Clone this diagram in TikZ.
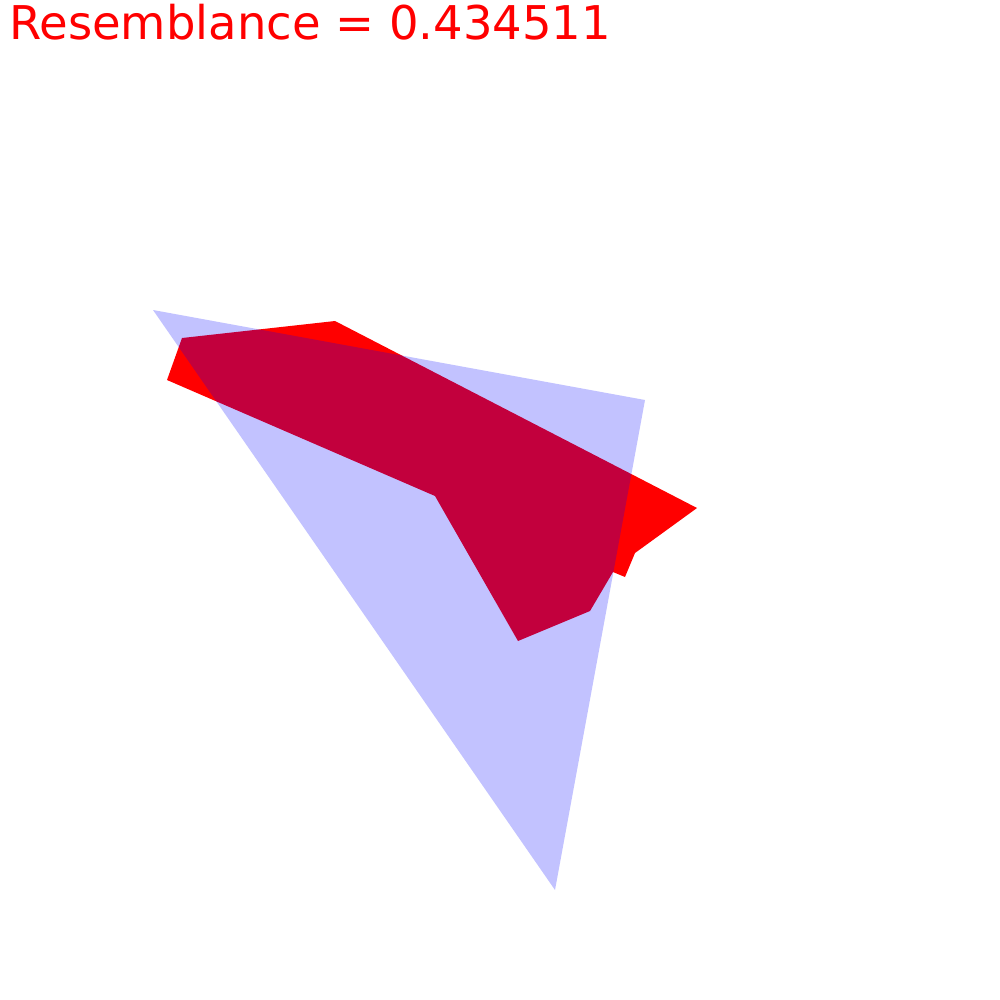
\documentclass[tikz,border=0pt]{standalone}
\usepackage{fontspec}
\setmainfont{DejaVu Sans}
\usepackage{tikz}
\usepackage{xcolor}

\begin{document}
\begin{tikzpicture}[
    x=1pt,y=-1pt,
    target/.style={fill=red},
    guess/.style={fill=blue,fill opacity=0.24},
    score/.style={text=red,font=\fontsize{46.5}{56}\selectfont,inner sep=0pt,anchor=base west}
]
% Frame of the picture.
\useasboundingbox (0,0) rectangle (1000,1000);
% Target shape.
\fill[target]
    (182,338) -- (335,321) -- (697,508) -- (635,553) -- (625,577)
    -- (613,572) -- (590,611) -- (518,641) -- (435,496) -- (167,380) -- cycle;
% Fitted triangle, laid over it.
\fill[guess] (153,310) -- (645,400) -- (555,890) -- cycle;
% Score line.
\node[score] (score) at (9,40) {Resemblance = 0.434511};
\end{tikzpicture}
\end{document}
